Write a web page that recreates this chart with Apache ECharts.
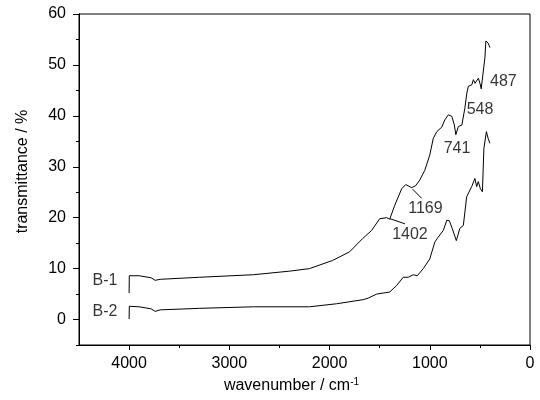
<!DOCTYPE html>
<html>
<head>
<meta charset="utf-8">
<script src="https://cdn.jsdelivr.net/npm/echarts@6/dist/echarts.min.js"></script>
<style>
  html, body { margin: 0; padding: 0; background: #fff; }
  #chart { width: 540px; height: 400px; }
</style>
</head>
<body>
<div id="chart"></div>
<script>
// spectrum B-1: [wavenumber, transmittance]
const b1 = [
  [4000, 5.2], [3998, 8.6], [3900, 8.6], [3780, 8.2], [3740, 7.7], [3690, 7.9],
  [3300, 8.3], [2760, 8.8], [2400, 9.5], [2200, 10.0], [1970, 11.6], [1800, 13.3],
  [1670, 15.9], [1580, 17.5], [1500, 19.8], [1430, 20.0], [1400, 19.7], [1350, 22.4],
  [1280, 25.7], [1240, 26.5], [1180, 25.9], [1170, 25.6], [1140, 26.3], [1100, 27.4],
  [1050, 29.3], [1000, 32.3], [965, 35.6], [930, 36.9], [880, 37.8], [850, 39.2],
  [815, 40.2], [780, 39.9], [755, 38.2], [740, 36.3], [715, 37.9], [680, 38.2],
  [650, 41.5], [630, 44.5], [615, 45.8], [580, 46.1], [565, 47.1], [548, 46.4],
  [515, 47.4], [495, 46.1], [487, 45.3], [450, 51.4], [440, 54.7], [418, 54.3],
  [400, 53.4]
]

// spectrum B-2
const b2 = [
  [4000, 0.1], [3998, 2.6], [3900, 2.5], [3780, 2.1], [3740, 1.6], [3690, 1.9],
  [3300, 2.2], [2760, 2.5], [2200, 2.5], [1930, 3.1], [1665, 3.9], [1615, 4.2],
  [1530, 5.0], [1465, 5.2], [1400, 5.4], [1330, 6.7], [1265, 8.3], [1215, 8.3],
  [1165, 8.8], [1125, 8.6], [1065, 10.0], [1000, 11.9], [950, 15.2], [915, 16.2],
  [865, 17.5], [830, 19.5], [805, 19.4], [776, 17.9], [735, 15.5], [700, 17.9],
  [665, 18.5], [632, 24.1], [582, 26.1], [550, 27.7], [532, 26.1], [516, 27.1],
  [495, 25.7], [475, 25.1], [460, 33.6], [435, 36.9], [418, 35.6], [400, 34.6]
]

// tick values
const xMajor = [0, 1000, 2000, 3000, 4000]
const xMinor = [500, 1500, 2500, 3500]
const yMajor = [0, 10, 20, 30, 40, 50, 60]
const yMinor = [-5, 5, 15, 25, 35, 45, 55]

// peak labels and curve names
const annoText = ['487', '548', '741', '1169', '1402', 'B-1', 'B-2']
const annoW = [266, 499, 728, 1043, 1198, 4241, 4241]
const annoV = [46.8, 41.2, 33.6, 21.8, 16.7, 7.7, 1.5]

// leader lines for 1169 and 1402
const leaders = [
  [[1171, 25.6], [1081, 23.8]],
  [[1397, 19.8], [1248, 18.8]]
]

const font = '"Liberation Sans", Arial, sans-serif'

const chart = echarts.init(document.getElementById('chart'), null, { renderer: 'canvas' })

const xBase = {
  type: 'value', min: 0, max: 4500, inverse: true, position: 'bottom',
  splitLine: { show: false },
  axisLine: { onZero: false, lineStyle: { color: '#000', width: 1 } }
}
const yBase = {
  type: 'value', min: -5, max: 60, position: 'left',
  splitLine: { show: false },
  axisLine: { onZero: false, lineStyle: { color: '#000', width: 1 } }
}

const option = {
  animation: false,
  backgroundColor: '#fff',
  grid: {
    left: 79, right: 10, top: 14, bottom: 55,
    show: true, borderColor: '#000', borderWidth: 1, backgroundColor: 'transparent'
  },
  xAxis: [
    Object.assign({}, xBase, {
      name: 'wavenumber / cm{sup|-1}',
      nameLocation: 'middle',
      nameGap: 30,
      nameTextStyle: {
        fontFamily: font, fontSize: 16, color: '#000', padding: [0, 26, 0, 0],
        rich: { sup: { fontFamily: font, fontSize: 10, color: '#000', verticalAlign: 'top', padding: [0, 0, 8, 0] } }
      },
      axisTick: { customValues: xMajor, length: 5, lineStyle: { color: '#000' } },
      axisLabel: {
        customValues: xMajor, margin: 11, fontFamily: font, fontSize: 16, color: '#000',
        formatter: v => String(v)
      }
    }),
    Object.assign({}, xBase, {
      axisTick: { customValues: xMinor, length: 3, lineStyle: { color: '#000' } },
      axisLabel: { show: false }
    })
  ],
  yAxis: [
    Object.assign({}, yBase, {
      name: 'transmittance / %',
      nameLocation: 'middle',
      nameGap: 48,
      nameTextStyle: { fontFamily: font, fontSize: 16, color: '#000', padding: [0, 0, 0, 16] },
      axisTick: { customValues: yMajor, length: 6, lineStyle: { color: '#000' } },
      axisLabel: { customValues: yMajor, margin: 13, fontFamily: font, fontSize: 16, color: '#000' }
    }),
    Object.assign({}, yBase, {
      axisTick: { customValues: yMinor, length: 3, lineStyle: { color: '#000' } },
      axisLabel: { show: false }
    })
  ],
  series: [
    {
      name: 'B-1', type: 'line', data: b1, showSymbol: false, silent: true,
      lineStyle: { color: '#000', width: 1 }
    },
    {
      name: 'B-2', type: 'line', data: b2, showSymbol: false, silent: true,
      lineStyle: { color: '#000', width: 1 },
      markLine: {
        silent: true, symbol: ['none', 'none'], label: { show: false },
        lineStyle: { color: '#000', width: 1, type: 'solid' },
        data: leaders.map(l => [{ coord: l[0] }, { coord: l[1] }])
      }
    },
    {
      name: 'labels', type: 'scatter', symbolSize: 0, silent: true,
      data: annoText.map((t, i) => ({ name: t, value: [annoW[i], annoV[i]] })),
      label: {
        show: true, position: 'inside', formatter: p => p.name,
        fontFamily: font, fontSize: 16, color: '#000'
      }
    }
  ]
}

chart.setOption(option)
</script>
</body>
</html>
